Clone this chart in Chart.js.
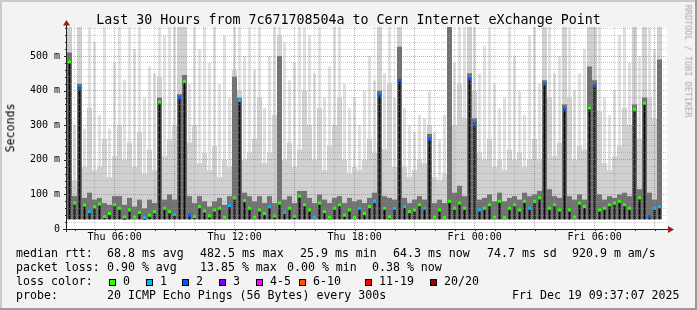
<!DOCTYPE html>
<html><head><meta charset="utf-8">
<script src="https://cdn.jsdelivr.net/npm/chart.js@4"></script>
<style>
html,body{margin:0;padding:0;background:#f3f3f3;}
#wrap{position:relative;width:697px;height:310px;overflow:hidden;}
#c{position:absolute;left:0;top:0;}
.t{position:absolute;font-family:"DejaVu Sans Mono",monospace;color:#000;white-space:pre;line-height:1;font-size:11.6px;}
.box{position:absolute;width:5px;height:5px;border:1px solid #000;}
</style></head>
<body><div id="wrap"><canvas id="c" width="697" height="310"></canvas></div>
<script>
// ---------------- data ----------------
const TITLE = 'Last 30 Hours from 7c671708504a to Cern Internet eXchange Point';
const SPAN_MIN = 1800;      // 30 hours, Thu 03:37 .. Fri 09:37
const STEP_MIN = 15;        // one bucket = 15 minutes
const FIRST_HOUR_MIN = 23;  // Thu 04:00
const FIRST_HOUR = 4;

// smoke: bottom, light top, mid top, dark top (ms)
const SMOKE_LO = [28,28,28,28,28,28,28,28,28,28, 28,27,28,28,28,27,28,28,28,28, 28,28,28,28,28,28,28,28,28,28,
                  28,28,28,28,28,28,28,28,28,28, 28,28,28,28,28,28,28,28,28,28, 28,28,28,28,28,28,28,28,28,28,
                  28,28,28,28,28,28,28,28,28,28, 28,28,28,28,28,28,28,28,28,28, 28,28,28,28,28,28,28,28,28,28,
                  28,28,28,28,28,28,28,28,28,28, 28,28,28,28,28,28,28,28,28,28, 28,28,28,28,28,28,28,28,28,null];
const SMOKE_LIGHT = [600,300,600,290,600,540,330,600,290,480, 600,430,600,520,600,380,470,450,600,560,
                     600,600,600,600,420,600,520,600,480,600, 420,560,380,600,600,500,600,460,600,350,
                     500,600,600,540,430,480,600,600,560,450, 600,380,470,600,600,420,350,380,300,400,
                     500,430,600,450,600,380,600,350,300,280, 330,320,400,280,260,330,600,480,600,600,
                     600,600,450,530,600,420,350,380,600,500, 400,330,560,600,420,600,600,450,500,600,
                     600,400,450,520,600,600,600,380,330,400, 560,600,480,600,500,600,600,520,600,null];
const SMOKE_MID = [600,140,600,180,350,170,180,260,150,210, 300,200,250,180,280,160,230,170,440,210,
                   260,300,600,600,250,300,190,220,170,240, 150,200,180,460,400,200,220,260,380,190,
                   220,330,560,200,250,180,230,400,300,200, 350,170,240,300,380,200,160,180,170,200,
                   260,220,600,230,420,180,600,180,150,170, 200,190,300,150,140,160,600,300,420,320,
                   600,400,220,200,260,180,200,170,230,200, 220,180,200,260,200,600,380,210,250,600,
                   380,200,240,230,600,600,340,190,170,210, 240,350,300,600,260,600,380,320,600,null];
const SMOKE_DARK = [510,95,420,90,105,85,90,75,70,95, 95,70,90,65,85,60,85,75,380,85,
                    100,85,390,445,95,75,95,80,65,80, 90,70,95,440,380,105,95,80,95,75,
                    95,75,500,85,95,75,110,110,90,75, 100,85,75,90,95,75,90,80,85,75,
                    90,105,400,95,90,85,527,90,75,85, 95,85,275,75,85,75,600,105,125,95,
                    450,320,85,90,100,80,105,80,90,95, 85,105,95,100,110,430,115,95,90,360,
                    95,85,100,85,470,430,100,85,95,90, 100,105,95,360,115,380,105,85,490,null];
// median rtt (ms) and lost pings per bucket
const MEDIAN = [483,75,407,69,50,64,72,36,45,70, 60,35,55,34,48,33,40,50,367,60,
                50,42,379,427,40,36,65,52,38,55, 60,34,68,90,372,82,60,34,55,45,
                65,38,75,48,60,37,95,70,55,33, 75,50,34,60,70,40,55,33,60,45,
                65,80,387,60,35,60,430,65,50,55, 70,60,260,34,55,33,80,60,75,60,
                434,305,55,60,70,34,80,33,60,70, 55,80,60,80,90,419,60,70,55,346,
                55,34,75,65,350,416,55,60,70,75, 80,70,60,346,90,364,36,60,65,null];
const LOSS = [0,0,2,0,1,0,0,0,0,0, 0,0,0,0,0,1,0,0,0,0, 0,1,2,0,2,0,0,0,0,0,
              0,0,1,0,1,0,0,0,0,0, 1,0,0,1,0,0,0,0,0,1, 0,0,0,0,0,0,0,0,1,0,
              0,1,2,0,0,1,2,1,0,0, 0,1,2,0,0,0,0,0,0,0, 2,2,1,0,0,0,0,0,0,0,
              0,0,1,0,0,2,0,0,0,2, 0,0,0,0,0,2,0,0,0,0, 0,0,0,0,0,0,2,1,1,null];
const LOSS_COLORS = ['#26ff00','#00b8ff','#0059ff','#7e00ff','#ff00ff','#ff5500','#ff0000','#a10000'];
const LOSS_LABELS = ['0','1','2','3','4-5','6-10','11-19','20/20'];

const X_TICK_MIN = [143, 503, 863, 1223, 1583];
const X_TICK_LABELS = ['Thu 06:00','Thu 12:00','Thu 18:00','Fri 00:00','Fri 06:00'];
const Y_MAX = 584;
const Y_GRID_STEP = 20;
const Y_TICK_VALUES = [0,100,200,300,400,500];
const Y_TICK_LABELS = ['0','100 m','200 m','300 m','400 m','500 m'];

const STATS_RTT = ['median rtt:','68.8 ms avg','482.5 ms max','25.9 ms min','64.3 ms now','74.7 ms sd','920.9 m am/s'];
const STATS_LOSS = ['packet loss:','0.90 % avg','13.85 % max','0.00 % min','0.38 % now'];
const PROBE = ['probe:','20 ICMP Echo Pings (56 Bytes) every 300s','Fri Dec 19 09:37:07 2025'];

// ---------------- chart ----------------
const FONT = "'DejaVu Sans Mono', monospace";
const MINOR = 'rgba(143,143,143,0.45)';
const MAJOR = 'rgba(224,90,90,0.6)';
const t = MEDIAN.map((_, i) => i * STEP_MIN + STEP_MIN / 2);

function band(top) {
  const out = [];
  top.forEach((v, i) => { if (v != null && SMOKE_LO[i] != null) out.push({x: t[i], y: [SMOKE_LO[i], v]}); });
  return out;
}
const medPts = [], medCols = [];
MEDIAN.forEach((v, i) => { if (v != null) { medPts.push({x: t[i], y: v}); medCols.push(LOSS_COLORS[LOSS[i]]); } });

function barDs(data, color, order, pct) {
  return {type: 'bar', data, backgroundColor: color, borderWidth: 0, grouped: false, order,
          barPercentage: pct, categoryPercentage: 1, inflateAmount: 0};
}

const framePlugin = {
  id: 'frame',
  beforeDraw(chart) {
    const {ctx, chartArea: a, width: W, height: H} = chart;
    ctx.save();
    ctx.fillStyle = '#f3f3f3'; ctx.fillRect(0, 0, W, H);
    ctx.fillStyle = '#cbcbcb'; ctx.fillRect(0, 0, W, 2); ctx.fillRect(0, 0, 2, H);
    ctx.fillStyle = '#9a9a9a'; ctx.fillRect(0, H - 2, W, 2); ctx.fillRect(W - 2, 0, 2, H);
    ctx.fillStyle = '#ffffff'; ctx.fillRect(a.left, a.top, a.right - a.left, a.bottom - a.top);
    ctx.restore();
  },
  afterDraw(chart) {
    const {ctx, chartArea: a, scales} = chart;
    ctx.save();
    ctx.strokeStyle = '#222'; ctx.lineWidth = 1;
    scales.x.ticks.forEach(tk => {
      const px = Math.round(scales.x.getPixelForValue(tk.value)) + 0.5;
      ctx.beginPath(); ctx.moveTo(px, a.bottom); ctx.lineTo(px, a.bottom + 2); ctx.stroke();
    });
    scales.y.ticks.forEach(tk => {
      const py = Math.round(scales.y.getPixelForValue(tk.value)) + 0.5;
      const len = tk.value % 100 === 0 ? 3 : 2;
      ctx.beginPath(); ctx.moveTo(a.left - len, py); ctx.lineTo(a.left, py); ctx.stroke();
    });
    const ay = Math.round(a.bottom) + 0.5, ax = Math.round(a.left) - 0.5;
    ctx.beginPath(); ctx.moveTo(a.left - 4, ay); ctx.lineTo(a.right + 1, ay); ctx.stroke();
    ctx.beginPath(); ctx.moveTo(ax, a.bottom + 3); ctx.lineTo(ax, a.top - 2); ctx.stroke();
    ctx.fillStyle = '#9b1c1c';
    ctx.beginPath(); ctx.moveTo(a.right + 7, ay); ctx.lineTo(a.right + 1, ay - 3.5); ctx.lineTo(a.right + 1, ay + 3.5); ctx.closePath(); ctx.fill();
    ctx.beginPath(); ctx.moveTo(ax, a.top - 7); ctx.lineTo(ax - 3.5, a.top - 1.5); ctx.lineTo(ax + 3.5, a.top - 1.5); ctx.closePath(); ctx.fill();
    ctx.restore();
  }
};

new Chart(document.getElementById('c'), {
  type: 'bar',
  data: {
    datasets: [
      {type: 'line', data: medPts, showLine: false, pointStyle: 'rect', pointRadius: 2.2, pointHoverRadius: 2.2,
       pointBackgroundColor: medCols, pointBorderWidth: 0, order: 0},
      barDs(band(MEDIAN), '#0a0a0a', 1, 0.4),
      barDs(band(SMOKE_DARK), '#727272', 2, 1),
      barDs(band(SMOKE_MID), '#d0d0d0', 3, 1),
      barDs(band(SMOKE_LIGHT), '#e0e0e0', 4, 0.6)
    ]
  },
  options: {
    responsive: false, animation: false, devicePixelRatio: 1,
    layout: {padding: {left: 0, top: 27, right: 30, bottom: 61}},
    plugins: {legend: {display: false}, tooltip: {enabled: false}, title: {display: false}},
    scales: {
      x: {
        type: 'linear', min: 0, max: SPAN_MIN, offset: false,
        afterBuildTicks: s => { const tk = []; for (let m = FIRST_HOUR_MIN; m < SPAN_MIN; m += 60) tk.push({value: m}); s.ticks = tk; },
        afterFit: s => { s.height = 20; },
        ticks: {autoSkip: false, maxRotation: 0, padding: 2, color: '#000', font: {family: FONT, size: 10},
                callback: v => { const i = X_TICK_MIN.indexOf(v); return i >= 0 ? X_TICK_LABELS[i] : ''; }},
        grid: {z: 1, offset: false, drawTicks: false, lineWidth: 1,
               color: c => { const h = (Math.round((c.tick.value - FIRST_HOUR_MIN) / 60) + FIRST_HOUR) % 24; return h % 3 === 0 ? MAJOR : MINOR; }},
        border: {display: false, dash: [1, 1]}
      },
      y: {
        type: 'linear', min: 0, max: Y_MAX,
        afterBuildTicks: s => { const tk = []; for (let v = 0; v <= Y_MAX; v += Y_GRID_STEP) tk.push({value: v}); s.ticks = tk; },
        afterFit: s => { s.width = 67; },
        ticks: {autoSkip: false, padding: 7, color: '#000', font: {family: FONT, size: 10},
                callback: v => { const i = Y_TICK_VALUES.indexOf(v); return i >= 0 ? Y_TICK_LABELS[i] : ''; }},
        grid: {z: 1, drawTicks: false, lineWidth: 1, color: c => c.tick.value % 100 === 0 ? MAJOR : MINOR},
        border: {display: false, dash: [1, 1]}
      }
    }
  },
  plugins: [framePlugin]
});

// ---------------- texts ----------------
const wrap = document.getElementById('wrap');
function txt(s, x, top, extra) {
  const d = document.createElement('div'); d.className = 't'; d.textContent = s;
  d.style.left = x + 'px'; d.style.top = top + 'px';
  if (extra) Object.assign(d.style, extra);
  wrap.appendChild(d); return d;
}
txt(TITLE, 0, 12.7, {width: '697px', textAlign: 'center', fontSize: '13.3px'});
txt('Seconds', 11, 128, {transform: 'translate(-50%,-50%) rotate(-90deg)', transformOrigin: 'center'});
txt('RRDTOOL / TOBI OETIKER', 688, 61, {fontSize: '8.5px', color: '#a8a8a8', transform: 'translate(-50%,-50%) rotate(90deg)', transformOrigin: 'center'});

const RTT_X = [16,107,200,300,393,487,572];
STATS_RTT.forEach((s, i) => txt(s, RTT_X[i], 248.2));
const LOSS_X = [16,107,200,287,372];
STATS_LOSS.forEach((s, i) => txt(s, LOSS_X[i], 262.2));
txt('loss color:', 16, 276.2);
const BOX_X = [109,146,182,219,256,299,365,430];
LOSS_LABELS.forEach((s, i) => {
  const b = document.createElement('div'); b.className = 'box';
  b.style.left = BOX_X[i] + 'px'; b.style.top = '279px'; b.style.background = LOSS_COLORS[i];
  wrap.appendChild(b);
  txt(s, BOX_X[i] + 14, 276.2);
});
txt(PROBE[0], 16, 290.2);
txt(PROBE[1], 107, 290.2);
txt(PROBE[2], 512, 290.2);
</script>
</body></html>
